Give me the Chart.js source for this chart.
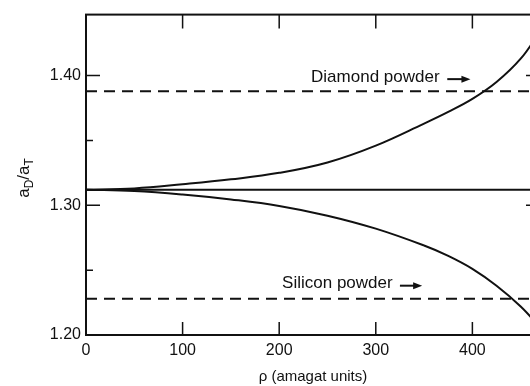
<!DOCTYPE html>
<html>
<head>
<meta charset="utf-8">
<script src="https://cdn.jsdelivr.net/npm/chart.js@4"></script>
<style>
    html, body { margin: 0; padding: 0; background: #fff; overflow: hidden; }
    canvas { display: block; }
</style>
</head>
<body>
<canvas id="chart" width="545" height="386"></canvas>
<script>
// density (amagat) and the two ratio curves
const rho = [0, 50, 100, 150, 200, 250, 300, 350, 375, 400, 425, 450, 470];
const diamondCurve = [1.312, 1.313, 1.3162, 1.320, 1.325, 1.333, 1.346, 1.363, 1.372, 1.382, 1.395, 1.413, 1.434];
const siliconCurve = [1.312, 1.311, 1.3083, 1.3045, 1.2995, 1.292, 1.282, 1.269, 1.261, 1.251, 1.238, 1.222, 1.206];

const zeroDensityRatio = 1.312;
const diamondPowder = 1.388;
const siliconPowder = 1.228;

const xTicks = [0, 100, 200, 300, 400];
const yTicks = [1.20, 1.25, 1.30, 1.35, 1.40];
const yTickLabels = ['1.20', '', '1.30', '', '1.40'];

const X_MAX = 470;
const FONT = '"Liberation Sans", Arial, sans-serif';
const INK = '#111';

function points(ys) {
    return rho.map((x, i) => ({ x, y: ys[i] }));
}

function flat(value) {
    return [{ x: 0, y: value }, { x: X_MAX, y: value }];
}

function drawArrow(ctx, x0, x1, y) {
    ctx.beginPath();
    ctx.moveTo(x0, y);
    ctx.lineTo(x1 - 6, y);
    ctx.lineWidth = 2;
    ctx.stroke();
    ctx.beginPath();
    ctx.moveTo(x1, y);
    ctx.lineTo(x1 - 9, y - 3.5);
    ctx.lineTo(x1 - 9, y + 3.5);
    ctx.closePath();
    ctx.fill();
}

const frame = {
    id: 'frame',
    afterDraw(chart) {
        const { ctx, chartArea: a, scales } = chart;
        const xs = scales.x;
        const ys = scales.y;
        ctx.save();
        ctx.strokeStyle = INK;
        ctx.fillStyle = INK;
        ctx.lineWidth = 2;
        ctx.strokeRect(a.left, a.top, a.right - a.left, a.bottom - a.top);

        // inward ticks on every side
        ctx.lineWidth = 1.5;
        ctx.beginPath();
        ys.ticks.forEach((t, i) => {
            const y = ys.getPixelForValue(t.value);
            const len = yTickLabels[i] ? 14 : 7;
            ctx.moveTo(a.left, y);
            ctx.lineTo(a.left + len, y);
            ctx.moveTo(a.right, y);
            ctx.lineTo(a.right - len, y);
        });
        xs.ticks.forEach((t) => {
            if (t.value === 0) return;
            const x = xs.getPixelForValue(t.value);
            ctx.moveTo(x, a.bottom);
            ctx.lineTo(x, a.bottom - 13);
            ctx.moveTo(x, a.top);
            ctx.lineTo(x, a.top + 14);
        });
        ctx.stroke();

        // annotations
        ctx.font = '17px ' + FONT;
        ctx.textBaseline = 'middle';
        ctx.textAlign = 'left';
        const dY = ys.getPixelForValue(diamondPowder);
        ctx.fillText('Diamond powder', xs.getPixelForValue(233), dY - 14);
        drawArrow(ctx, xs.getPixelForValue(374), xs.getPixelForValue(398), dY - 12);
        const sY = ys.getPixelForValue(siliconPowder);
        ctx.fillText('Silicon powder', xs.getPixelForValue(203), sY - 15);
        drawArrow(ctx, xs.getPixelForValue(325), xs.getPixelForValue(348), sY - 13);

        // x title
        ctx.textAlign = 'center';
        ctx.font = '15px ' + FONT;
        ctx.fillText('\u03c1 (amagat units)', (a.left + a.right) / 2, 377);

        // y title a_D / a_T, rotated
        ctx.translate(29, 178);
        ctx.rotate(-Math.PI / 2);
        ctx.textAlign = 'left';
        ctx.textBaseline = 'alphabetic';
        const parts = [['a', 17, 0], ['D', 12, 4], ['/', 17, 0], ['a', 17, 0], ['T', 12, 4]];
        let w = 0;
        parts.forEach(([s, size]) => { ctx.font = size + 'px ' + FONT; w += ctx.measureText(s).width; });
        let x = -w / 2;
        parts.forEach(([s, size, dy]) => {
            ctx.font = size + 'px ' + FONT;
            ctx.fillText(s, x, dy);
            x += ctx.measureText(s).width;
        });
        ctx.restore();
    },
};

const solid = { borderColor: INK, borderWidth: 2, pointRadius: 0, fill: false };

new Chart(document.getElementById('chart'), {
    type: 'line',
    data: {
        datasets: [
            { ...solid, data: points(diamondCurve), tension: 0.4 },
            { ...solid, data: points(siliconCurve), tension: 0.4 },
            { ...solid, data: flat(zeroDensityRatio) },
            { ...solid, data: flat(diamondPowder), borderDash: [11, 7] },
            { ...solid, data: flat(siliconPowder), borderDash: [11, 7] },
        ],
    },
    options: {
        responsive: false,
        animation: false,
        events: [],
        layout: { padding: { top: 12, right: 5, left: 0, bottom: 0 } },
        plugins: {
            legend: { display: false },
            tooltip: { enabled: false },
        },
        scales: {
            x: {
                type: 'linear',
                min: 0,
                max: X_MAX,
                grid: { display: false, drawTicks: false },
                border: { display: false },
                afterBuildTicks(scale) {
                    scale.ticks = xTicks.map((value) => ({ value }));
                },
                afterFit(scale) {
                    scale.height = 51;
                },
                ticks: {
                    padding: 6,
                    maxRotation: 0,
                    autoSkip: false,
                    color: INK,
                    font: { family: FONT, size: 16 },
                    callback: (value) => String(value),
                },
            },
            y: {
                type: 'linear',
                min: 1.20,
                max: 1.447,
                grid: { display: false, drawTicks: false },
                border: { display: false },
                afterBuildTicks(scale) {
                    scale.ticks = yTicks.map((value) => ({ value }));
                },
                afterFit(scale) {
                    scale.width = 86;
                },
                ticks: {
                    padding: 5,
                    autoSkip: false,
                    color: INK,
                    font: { family: FONT, size: 16 },
                    callback: (value, index) => yTickLabels[index],
                },
            },
        },
    },
    plugins: [frame],
});
</script>
</body>
</html>
